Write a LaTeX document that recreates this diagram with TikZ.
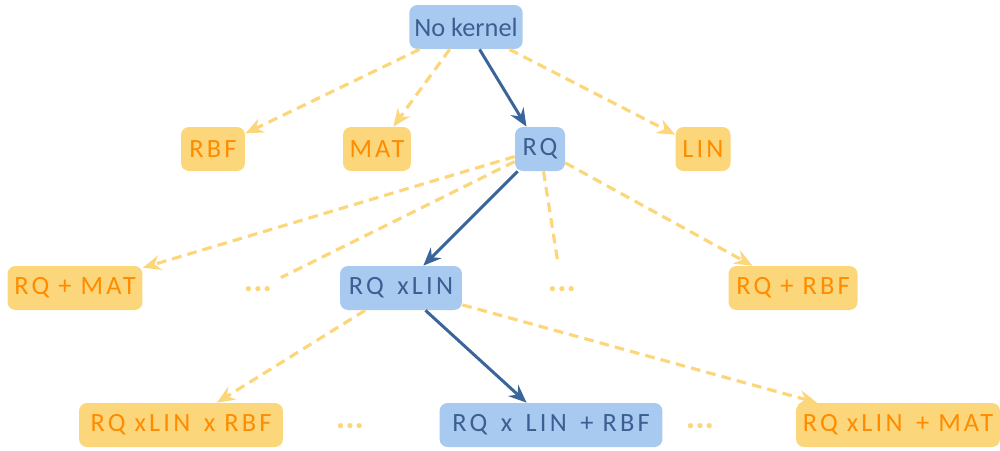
\documentclass[tikz,border=0pt]{standalone}
\usepackage{fontspec}
\setsansfont{Carlito}
\newfontfamily\widefont{Carlito}[LetterSpace=12]
\usetikzlibrary{arrows.meta}

\definecolor{pickfill}{HTML}{A9CAF0}
\definecolor{picktext}{HTML}{3B5F92}
\definecolor{pickline}{HTML}{3A659B}
\definecolor{triedfill}{HTML}{FCD67A}
\definecolor{triedtext}{HTML}{FF8C00}

\begin{document}
\begin{tikzpicture}[
    x=0.02cm,
    y=-0.02cm,
    line join=round,
    kernel/.style={rounded corners=0.16cm, minimum height=0.88cm, inner xsep=0.1cm,
        font=\sffamily\fontsize{15}{17}\selectfont},
    chosen/.style={kernel, fill=pickfill, text=picktext},
    tried/.style={kernel, fill=triedfill, text=triedtext},
    more/.style={font=\sffamily\bfseries\fontsize{20}{22}\selectfont, text=triedfill, inner sep=1pt},
    pickarrow/.style={-{Stealth[length=0.36cm, width=0.3cm, inset=0.12cm]}, line width=1.7pt, pickline},
    triedarrow/.style={-{Stealth[length=0.36cm, width=0.3cm, inset=0.12cm]}, line width=1.8pt,
        dash pattern=on 5.5pt off 3.5pt, triedfill},
    triedline/.style={line width=1.8pt, dash pattern=on 5.5pt off 3.5pt, triedfill}
]

\useasboundingbox (0,0) rectangle (1000,450);

% -------------------------------------------------
% Level 0
% -------------------------------------------------
\node[chosen, minimum width=2.24cm] (none) at (466,27) {No kernel};

% -------------------------------------------------
% Level 1
% -------------------------------------------------
\node[tried,  minimum width=1.28cm] (rbf) at (213,149) {\widefont RBF};
\node[tried,  minimum width=1.36cm] (mat) at (377,149) {\widefont MAT};
\node[chosen, minimum width=1.0cm]  (rq)  at (540,149) {\widefont RQ};
\node[tried,  minimum width=1.1cm]  (lin) at (703,149) {\widefont LIN};

% -------------------------------------------------
% Level 2
% -------------------------------------------------
\node[tried,  minimum width=2.7cm]  (rqmat) at (75,288)  {\widefont RQ + MAT};
\node[more]                         (dotsa) at (258,289) {...};
\node[chosen, minimum width=2.44cm] (rqlin) at (401,288) {\widefont RQ \,xLIN};
\node[more]                         (dotsb) at (562,289) {...};
\node[tried,  minimum width=2.58cm] (rqrbf) at (793,288) {\widefont RQ + RBF};

% -------------------------------------------------
% Level 3
% -------------------------------------------------
\node[tried,  minimum width=4.08cm] (rqlinrbf)  at (181,425) {\widefont RQ xLIN \,x RBF};
\node[more]                         (dotsc)     at (350,426) {...};
\node[chosen, minimum width=4.46cm] (rqlinprbf) at (551,425) {\widefont RQ \,x \,LIN \,+ RBF};
\node[more]                         (dotsd)     at (700,426) {...};
\node[tried,  minimum width=4.08cm] (rqlinpmat) at (898,425) {\widefont RQ xLIN \,+ MAT};

% -------------------------------------------------
% Connectors
% -------------------------------------------------
\draw[triedarrow] (none) -- (rbf);
\draw[triedarrow] (none) -- (mat);
\draw[pickarrow]  (none) -- (rq);
\draw[triedarrow] (none) -- (lin);

\draw[triedarrow] (rq) -- (rqmat);
\draw[triedline, shorten >=0.3cm] (rq) -- (dotsa);
\draw[pickarrow]  (rq) -- (rqlin);
\draw[triedline, shorten >=0.45cm] (rq) -- (dotsb);
\draw[triedarrow] (rq) -- (rqrbf);

\draw[triedarrow] (rqlin) -- (rqlinrbf);
\draw[pickarrow]  (rqlin) -- (rqlinprbf);
\draw[triedarrow] (rqlin) -- (rqlinpmat);

\end{tikzpicture}
\end{document}
